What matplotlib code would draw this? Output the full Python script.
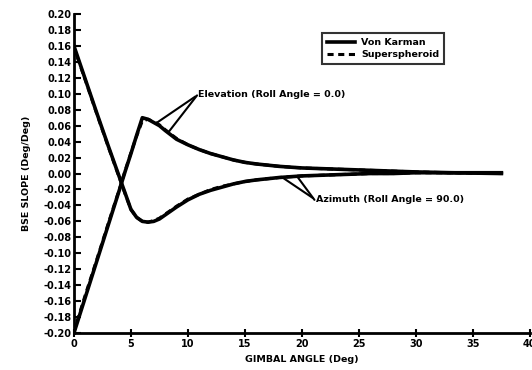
import matplotlib.pyplot as plt

# gimbal angle samples (deg)
angle = [0, 1, 2, 3, 4, 4.5, 5, 5.5, 6, 6.5, 7, 7.5, 8, 9, 10, 11, 12, 13,
         14, 15, 16, 18, 20, 22, 24, 26, 28, 30, 33, 37.5]

# elevation (roll angle = 0.0)
elev_vk = [-0.200, -0.155, -0.110, -0.065, -0.020, 0.003, 0.025, 0.048, 0.070,
           0.068, 0.064, 0.060, 0.054, 0.043, 0.036, 0.030, 0.025, 0.021,
           0.017, 0.014, 0.012, 0.009, 0.007, 0.006, 0.005, 0.004, 0.003,
           0.002, 0.001, 0.000]
elev_ss = [-0.198, -0.152, -0.108, -0.063, -0.019, 0.004, 0.026, 0.047, 0.066,
           0.068, 0.065, 0.061, 0.055, 0.044, 0.036, 0.030, 0.025, 0.021,
           0.017, 0.014, 0.012, 0.009, 0.007, 0.006, 0.005, 0.004, 0.003,
           0.002, 0.001, 0.000]

# azimuth (roll angle = 90.0)
azim_vk = [0.160, 0.118, 0.076, 0.035, -0.005, -0.025, -0.045, -0.055, -0.060,
           -0.061, -0.060, -0.057, -0.052, -0.042, -0.033, -0.026, -0.021,
           -0.017, -0.013, -0.010, -0.008, -0.005, -0.003, -0.002, -0.001,
           0.000, 0.000, 0.001, 0.001, 0.001]
azim_ss = [0.158, 0.117, 0.075, 0.034, -0.006, -0.026, -0.045, -0.055, -0.060,
           -0.061, -0.059, -0.056, -0.051, -0.041, -0.032, -0.026, -0.020,
           -0.016, -0.013, -0.010, -0.008, -0.005, -0.003, -0.002, -0.001,
           0.000, 0.000, 0.001, 0.001, 0.001]

x_ticks = [0, 5, 10, 15, 20, 25, 30, 35, 40]
y_ticks = [round(-0.20 + 0.02 * i, 2) for i in range(21)]

plt.rcParams['font.family'] = ['DejaVu Sans']
plt.rcParams['font.weight'] = 'bold'

fig = plt.figure(figsize=(5.32, 3.70), dpi=100)
ax = fig.add_axes([0.139, 0.10, 0.857, 0.862])

ax.plot(angle, elev_vk, color='black', lw=2.6, label='Von Karman')
ax.plot(angle, elev_ss, color='black', lw=2.2, ls=(0, (2, 1.5)), label='Superspheroid')
ax.plot(angle, azim_vk, color='black', lw=2.6)
ax.plot(angle, azim_ss, color='black', lw=2.2, ls=(0, (2, 1.5)))

ax.set_xlim(0, 40)
ax.set_ylim(-0.20, 0.20)
ax.set_xticks(x_ticks)
ax.set_yticks(y_ticks)
ax.set_yticklabels([f"{v:.2f}" for v in y_ticks])
ax.tick_params(axis='x', direction='inout', length=6, width=1.5, labelsize=7, pad=1)
ax.tick_params(axis='y', direction='in', length=5, width=1.5, labelsize=7, pad=2)
for lab in ax.get_xticklabels() + ax.get_yticklabels():
    lab.set_fontweight('bold')

ax.spines['top'].set_visible(False)
ax.spines['right'].set_visible(False)
ax.spines['left'].set_linewidth(2)
ax.spines['bottom'].set_linewidth(2)

ax.set_xlabel('GIMBAL ANGLE (Deg)', fontsize=6.8, fontweight='bold', labelpad=5)
ax.set_ylabel('BSE SLOPE (Deg/Deg)', fontsize=6.8, fontweight='bold', labelpad=9)

# annotation leaders (two lines from the start of each label)
lead = dict(arrowstyle='-', color='black', lw=1.5, shrinkA=0, shrinkB=0, relpos=(0, 0.5))
ax.annotate('Elevation (Roll Angle = 0.0)', xy=(7.2, 0.063), xytext=(10.9, 0.099),
            fontsize=6.8, fontweight='bold', va='center', ha='left', arrowprops=lead)
ax.annotate('', xy=(8.3, 0.052), xytext=(10.8, 0.098), arrowprops=lead)
ax.annotate('Azimuth (Roll Angle = 90.0)', xy=(18.4, -0.006), xytext=(21.2, -0.033),
            fontsize=6.8, fontweight='bold', va='center', ha='left', arrowprops=lead)
ax.annotate('', xy=(19.6, -0.004), xytext=(21.1, -0.033), arrowprops=lead)

leg = ax.legend(loc='upper right', bbox_to_anchor=(0.822, 0.955), fontsize=6.8,
                frameon=True, fancybox=False, edgecolor='black', handlelength=3,
                borderpad=0.5, labelspacing=0.35, handletextpad=0.6)
leg.get_frame().set_linewidth(1.5)
for t in leg.get_texts():
    t.set_fontweight('bold')

fig.savefig('out.png', dpi=100)
